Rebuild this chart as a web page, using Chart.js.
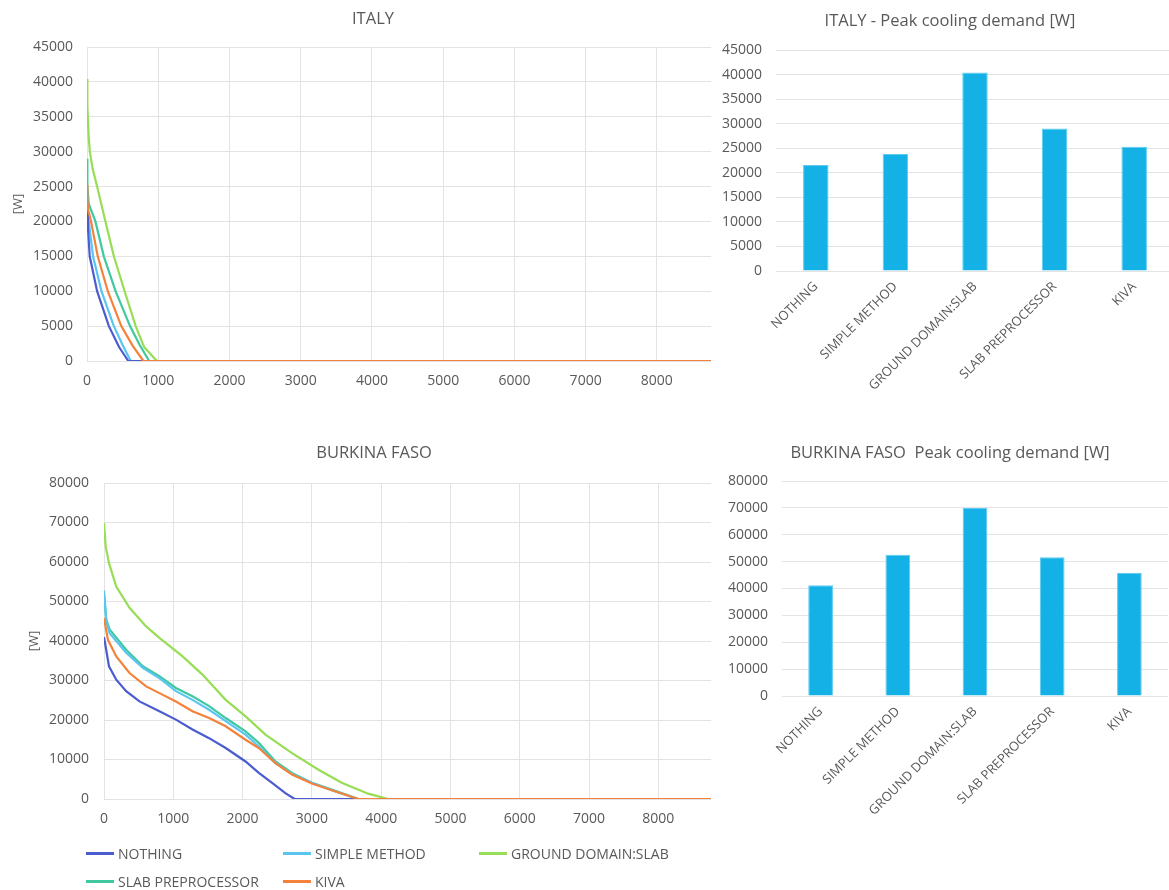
<!DOCTYPE html>
<html>
<head>
<meta charset="utf-8">
<script src="https://cdn.jsdelivr.net/npm/chart.js@4.4.1/dist/chart.umd.min.js"></script>
<style>
html,body{margin:0;padding:0;background:#fff;width:1169px;height:890px;overflow:hidden;}
canvas{position:absolute;}
#legend{position:absolute;left:86px;top:844px;display:grid;grid-template-columns:197px 196px 240px;row-gap:9px;font:14px 'Open Sans',sans-serif;color:#595959;}
#legend .item{display:flex;align-items:center;height:19px;white-space:nowrap;}
#legend .sw{display:inline-block;width:28px;height:3px;margin-right:4px;}
</style>
</head>
<body>
<canvas id="lineIT" width="712" height="400" style="left:0;top:0"></canvas>
<canvas id="barIT" width="462" height="420" style="left:712px;top:0"></canvas>
<canvas id="lineBF" width="712" height="420" style="left:0;top:420px"></canvas>
<canvas id="barBF" width="456" height="470" style="left:712px;top:420px"></canvas>
<div id="legend"></div>
<script>
// series names + colours
const methods = ["NOTHING","SIMPLE METHOD","GROUND DOMAIN:SLAB","SLAB PREPROCESSOR","KIVA"];
const colors = ["#4A5CCF","#5BC5F2","#97DD55","#40C9A0","#F5823A"];
const barColor = "#14B1E7";
const hourTicks = [0,1000,2000,3000,4000,5000,6000,7000,8000];

// peak cooling demand [W]
const peakIT = [21600,23800,40400,29000,25300];
const peakBF = [41200,52600,70000,51600,45900];

// duration curves, ITALY: hours / [W]
const itNothingH = [0,14,38,142,307,450,580,8760];
const itNothingW = [21600,19000,15000,10000,5000,2000,0,0];
const itSimpleH = [0,5,24,85,203,377,500,613,8760];
const itSimpleW = [23800,21500,20000,15000,10000,5000,2300,0,0];
const itGroundH = [0,5,24,40,80,142,200,259,377,528,684,802,981,8760];
const itGroundW = [40400,36500,32000,30000,27500,25000,22500,20000,15000,10000,5000,2000,0,0];
const itSlabH = [0,5,25,118,236,401,604,740,873,8760];
const itSlabW = [29000,25000,22500,20000,15000,10000,5000,2300,0,0];
const itKivaH = [0,5,20,57,151,292,481,640,792,8760];
const itKivaW = [25300,23000,21500,20000,15000,10000,5000,2200,0,0];

// duration curves, BURKINA FASO
const bfNothingH = [0,72,177,320,512,799,1038,1277,1517,1756,2043,2234,2426,2617,2751,8760];
const bfNothingW = [41000,33600,30200,27300,24700,22200,20100,17600,15400,12900,9500,6600,4100,1500,0,0];
const bfSimpleH = [0,33,81,320,560,799,1038,1277,1517,1756,2043,2234,2474,2713,3000,3287,3670,8760];
const bfSimpleW = [52800,45000,42000,37000,33200,30600,27300,25100,22600,19700,16300,13300,9100,6300,4100,2200,0,0];
const bfGroundH = [0,24,72,177,368,608,799,1134,1421,1756,2043,2330,2713,3096,3431,3813,4100,8760];
const bfGroundW = [69900,64000,59700,53800,48400,43700,40800,36100,31500,25100,20900,16300,11600,7400,4100,1350,0,0];
const bfSlabH = [0,33,81,320,560,799,1038,1277,1517,1756,2043,2234,2474,2713,3000,3287,3670,8760];
const bfSlabW = [51700,45400,42900,37800,33600,31100,28100,26000,23500,20500,17100,14200,9500,6600,4100,2400,0,0];
const bfKivaH = [0,57,177,368,608,799,1038,1277,1517,1756,2043,2234,2474,2713,3000,3287,3670,8760];
const bfKivaW = [45800,40300,36100,31900,28500,26800,24700,22200,20500,18400,15000,12900,9100,6200,3900,2200,0,0];

Chart.defaults.font.family = "'Open Sans', sans-serif";
Chart.defaults.color = "#595959";
Chart.defaults.animation = false;
const gridCol = "#E3E3E3";

// title drawn at a given centre (excel centres it on the whole chart box)
const ctitle = {
  id: "ctitle",
  afterDraw(chart, args, o){
    const ctx = chart.ctx;
    ctx.save();
    ctx.font = "16.5px 'Open Sans', sans-serif";
    ctx.fillStyle = "#595959";
    ctx.textAlign = "center";
    ctx.textBaseline = "middle";
    ctx.fillText(o.text, o.x, o.y);
    ctx.restore();
  }
};

function pts(h,w){ return h.map((x,i) => ({x:x, y:w[i]})); }

function lineDatasets(series){
  let sets = [];
  // kiva drawn on top (lowest order)
  const ord = [1,2,3,4,0];
  for (var i=0;i<series.length;++i) {
    sets.push({label: methods[i], data: pts(series[i][0],series[i][1]), borderColor: colors[i], backgroundColor: colors[i],
      borderWidth: 2.2, pointRadius: 0, tension: 0, order: ord[i]});
  }
  return sets;
}

function makeLine(id,title,series,ymax,ystep,c){
  new Chart(document.getElementById(id), {
    type: "line",
    data: { datasets: lineDatasets(series) },
    plugins: [ctitle],
    options: {
      responsive: false,
      layout: { padding: {left:0,right:1,top:c.top,bottom:0} },
      plugins: {
        ctitle: { text:title, x:c.tx, y:c.ty },
        legend: { display:false }, tooltip: { enabled:false }
      },
      scales: {
        x: { type:"linear", min:0, max:8760,
             ticks:{font:{size:14}, padding:c.xPad, maxRotation:0, autoSkip:false, callback:(v)=>String(v)},
             afterBuildTicks:(s)=>{ s.ticks = hourTicks.map(v => ({value:v})); },
             grid:{color:gridCol, drawTicks:false}, border:{display:false},
             afterFit:(s)=>{ s.height = c.xH; } },
        y: { min:0, max:ymax,
             ticks:{stepSize:ystep, font:{size:14}, padding:c.yPad, callback:(v)=>String(v)},
             grid:{color:gridCol, drawTicks:false}, border:{display:false},
             title:{display:true, text:"[W]", font:{size:13}, color:"#595959", padding:{top:c.wPad,bottom:0}},
             afterFit:(s)=>{ s.width = c.yW; } }
      }
    }
  });
}

function makeBar(id,title,vals,ymax,ystep,c){
  new Chart(document.getElementById(id), {
    type: "bar",
    data: { labels: methods, datasets: [{ data: vals, backgroundColor: barColor, borderColor:"#5CCBF0", borderWidth:1,
      categoryPercentage:1, barPercentage:0.32 }] },
    plugins: [ctitle],
    options: {
      responsive: false,
      layout: { padding: {left:0,right:0,top:c.top,bottom:0} },
      plugins: {
        ctitle: { text:title, x:c.tx, y:c.ty },
        legend: { display:false }, tooltip: { enabled:false }
      },
      scales: {
        x: { ticks:{font:{size:13}, minRotation:45, maxRotation:45, padding:c.xPad, autoSkip:false},
             grid:{display:false, drawTicks:false}, border:{display:false},
             afterFit:(s)=>{ s.height = c.xH; } },
        y: { min:0, max:ymax,
             ticks:{stepSize:ystep, font:{size:14}, padding:c.yPad, callback:(v)=>String(v)},
             grid:{color:gridCol, drawTicks:false}, border:{display:false},
             afterFit:(s)=>{ s.width = c.yW; } }
      }
    }
  });
}

makeLine("lineIT","ITALY",
  [[itNothingH,itNothingW],[itSimpleH,itSimpleW],[itGroundH,itGroundW],[itSlabH,itSlabW],[itKivaH,itKivaW]],
  45000,5000,{top:47,tx:373,ty:19,xPad:12,xH:39,yPad:14,yW:87,wPad:10});
makeLine("lineBF","BURKINA FASO",
  [[bfNothingH,bfNothingW],[bfSimpleH,bfSimpleW],[bfGroundH,bfGroundW],[bfSlabH,bfSlabW],[bfKivaH,bfKivaW]],
  80000,10000,{top:63,tx:374,ty:33,xPad:12,xH:41,yPad:15,yW:104,wPad:26});
makeBar("barIT","ITALY - Peak cooling demand [W]",peakIT,45000,5000,{top:50,tx:238,ty:21,xPad:8,xH:149,yPad:14,yW:64});
makeBar("barBF","BURKINA FASO  Peak cooling demand [W]",peakBF,80000,10000,{top:61,tx:238,ty:33,xPad:8,xH:194,yPad:14,yW:70});

// legend below Burkina line chart
let lg = document.getElementById("legend");
for (var i=0;i<methods.length;++i) {
  let d = document.createElement("div");
  d.className = "item";
  d.innerHTML = '<span class="sw" style="background:'+colors[i]+'"></span>'+methods[i];
  lg.appendChild(d);
}
</script>
</body>
</html>
